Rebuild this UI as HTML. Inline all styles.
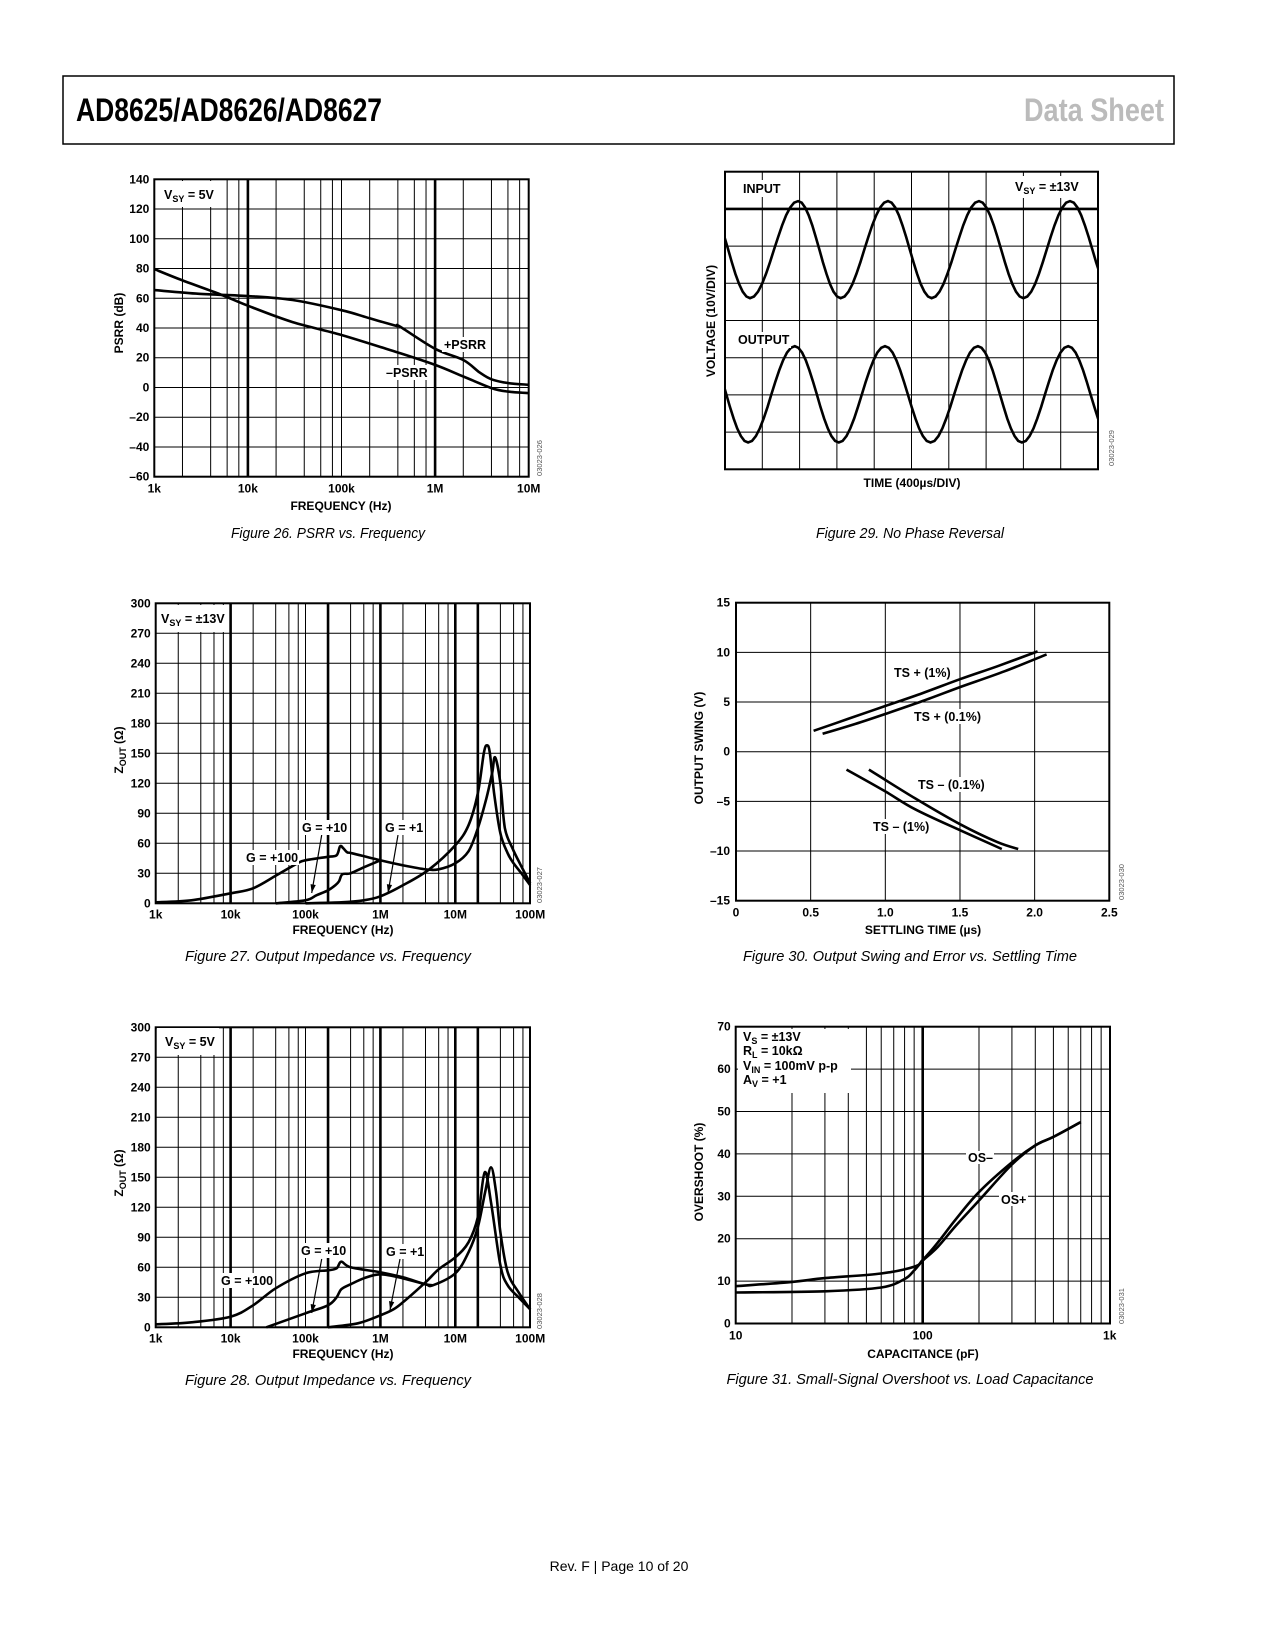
<!DOCTYPE html>
<html><head><meta charset="utf-8">
<style>
html,body{margin:0;padding:0;background:#fff;}
svg{display:block;}
text{font-family:"Liberation Sans",Arial,sans-serif;}
.b{font-weight:bold;font-size:12px;}
.lab{font-weight:bold;font-size:12.5px;}
.cap{font-style:italic;font-size:15px;}
.code{font-size:7.5px;fill:#555;}
</style></head>
<body>
<svg id="page" width="1275" height="1650" viewBox="0 0 1275 1650">
<rect x="0" y="0" width="1275" height="1650" fill="#fff"/>
<rect x="63" y="76" width="1111" height="68" fill="none" stroke="#000" stroke-width="1.5"/>
<text x="76" y="121" font-family="'Liberation Sans Narrow','Liberation Sans',sans-serif" font-weight="bold" font-size="32" textLength="306" lengthAdjust="spacingAndGlyphs">AD8625/AD8626/AD8627</text>
<text x="1164" y="121" text-anchor="end" font-family="'Liberation Sans Narrow','Liberation Sans',sans-serif" font-weight="bold" font-size="32" fill="#bbb" textLength="140" lengthAdjust="spacingAndGlyphs">Data Sheet</text>

<g id="g1"></g>
<g id="g2"></g>
<g id="g3"></g>
<g id="g4"></g>
<g id="g5"></g>
<g id="g6"></g>

<g id="ann">
<rect x="156" y="181" width="70" height="26" fill="#fff"/>
<text x="164" y="199" class="lab">V<tspan font-size="9" dy="3">SY</tspan><tspan dy="-3"> = 5V</tspan></text>
<rect x="442" y="337" width="48" height="15" fill="#fff"/>
<text x="444" y="349" class="lab">+PSRR</text>
<rect x="384" y="365" width="45" height="15" fill="#fff"/>
<text x="386" y="377" class="lab">–PSRR</text>

<rect x="157" y="605" width="71" height="27" fill="#fff"/>
<text x="161" y="623" class="lab">V<tspan font-size="9" dy="3">SY</tspan><tspan dy="-3"> = ±13V</tspan></text>
<rect x="300" y="820" width="49" height="15" fill="#fff"/>
<text x="302" y="832" class="lab">G = +10</text>
<rect x="383" y="820" width="40" height="15" fill="#fff"/>
<text x="385" y="832" class="lab">G = +1</text>
<rect x="244" y="850" width="55" height="15" fill="#fff"/>
<text x="246" y="862" class="lab">G = +100</text>

<rect x="157" y="1028" width="62" height="27" fill="#fff"/>
<text x="165" y="1046" class="lab">V<tspan font-size="9" dy="3">SY</tspan><tspan dy="-3"> = 5V</tspan></text>
<rect x="299" y="1243" width="49" height="15" fill="#fff"/>
<text x="301" y="1255" class="lab">G = +10</text>
<rect x="384" y="1244" width="40" height="15" fill="#fff"/>
<text x="386" y="1256" class="lab">G = +1</text>
<rect x="219" y="1273" width="55" height="15" fill="#fff"/>
<text x="221" y="1285" class="lab">G = +100</text>

<rect x="741" y="180" width="42" height="17" fill="#fff"/>
<text x="743" y="193" class="lab">INPUT</text>
<rect x="1011" y="176" width="78" height="22" fill="#fff"/>
<text x="1015" y="191" class="lab">V<tspan font-size="9" dy="3">SY</tspan><tspan dy="-3"> = ±13V</tspan></text>
<rect x="736" y="332" width="55" height="16" fill="#fff"/>
<text x="738" y="344" class="lab">OUTPUT</text>

<rect x="892" y="665" width="62" height="15" fill="#fff"/>
<text x="894" y="677" class="lab">TS + (1%)</text>
<rect x="912" y="709" width="72" height="15" fill="#fff"/>
<text x="914" y="721" class="lab">TS + (0.1%)</text>
<rect x="916" y="777" width="71" height="15" fill="#fff"/>
<text x="918" y="789" class="lab">TS – (0.1%)</text>
<rect x="871" y="819" width="60" height="15" fill="#fff"/>
<text x="873" y="831" class="lab">TS – (1%)</text>

<rect x="738" y="1029" width="113" height="64" fill="#fff"/>
<text x="743" y="1041" class="lab">V<tspan font-size="9" dy="3">S</tspan><tspan dy="-3"> = ±13V</tspan></text>
<text x="743" y="1055" class="lab">R<tspan font-size="9" dy="3">L</tspan><tspan dy="-3"> = 10kΩ</tspan></text>
<text x="743" y="1070" class="lab">V<tspan font-size="9" dy="3">IN</tspan><tspan dy="-3"> = 100mV p-p</tspan></text>
<text x="743" y="1084" class="lab">A<tspan font-size="9" dy="3">V</tspan><tspan dy="-3"> = +1</tspan></text>
<rect x="966" y="1151" width="28" height="13" fill="#fff"/>
<text x="968" y="1162" class="lab">OS–</text>
<rect x="999" y="1192" width="29" height="14" fill="#fff"/>
<text x="1001" y="1204" class="lab">OS+</text>

<text x="341" y="510" text-anchor="middle" class="b">FREQUENCY  (Hz)</text>
<text transform="translate(123,323) rotate(-90)" text-anchor="middle" class="b">PSRR (dB)</text>
<text x="343" y="934" text-anchor="middle" class="b">FREQUENCY  (Hz)</text>
<text transform="translate(123,750) rotate(-90)" text-anchor="middle" class="b">Z<tspan font-size="9" dy="3">OUT</tspan><tspan dy="-3"> (Ω)</tspan></text>
<text x="343" y="1358" text-anchor="middle" class="b">FREQUENCY  (Hz)</text>
<text transform="translate(123,1173) rotate(-90)" text-anchor="middle" class="b">Z<tspan font-size="9" dy="3">OUT</tspan><tspan dy="-3"> (Ω)</tspan></text>
<text x="912" y="487" text-anchor="middle" class="b">TIME  (400µs/DIV)</text>
<text transform="translate(715,321) rotate(-90)" text-anchor="middle" class="b">VOLTAGE (10V/DIV)</text>
<text x="923" y="934" text-anchor="middle" class="b">SETTLING  TIME  (µs)</text>
<text transform="translate(703,748) rotate(-90)" text-anchor="middle" class="b">OUTPUT SWING (V)</text>
<text x="923" y="1358" text-anchor="middle" class="b">CAPACITANCE  (pF)</text>
<text transform="translate(703,1172) rotate(-90)" text-anchor="middle" class="b">OVERSHOOT (%)</text>

<text x="328" y="538" text-anchor="middle" class="cap" textLength="194" lengthAdjust="spacingAndGlyphs">Figure 26. PSRR vs. Frequency</text>
<text x="910" y="538" text-anchor="middle" class="cap" textLength="188" lengthAdjust="spacingAndGlyphs">Figure 29. No Phase Reversal</text>
<text x="328" y="961" text-anchor="middle" class="cap" textLength="286" lengthAdjust="spacingAndGlyphs">Figure 27. Output Impedance vs. Frequency</text>
<text x="910" y="961" text-anchor="middle" class="cap" textLength="334" lengthAdjust="spacingAndGlyphs">Figure 30. Output Swing and Error vs. Settling Time</text>
<text x="328" y="1385" text-anchor="middle" class="cap" textLength="286" lengthAdjust="spacingAndGlyphs">Figure 28. Output Impedance vs. Frequency</text>
<text x="910" y="1384" text-anchor="middle" class="cap" textLength="367" lengthAdjust="spacingAndGlyphs">Figure 31. Small-Signal Overshoot vs. Load Capacitance</text>
<text x="619" y="1571" text-anchor="middle" font-size="14">Rev. F | Page 10 of 20</text>

<text transform="translate(542,458) rotate(-90)" text-anchor="middle" class="code">03023-026</text>
<text transform="translate(542,885) rotate(-90)" text-anchor="middle" class="code">03023-027</text>
<text transform="translate(542,1311) rotate(-90)" text-anchor="middle" class="code">03023-028</text>
<text transform="translate(1114,448) rotate(-90)" text-anchor="middle" class="code">03023-029</text>
<text transform="translate(1124,882) rotate(-90)" text-anchor="middle" class="code">03023-030</text>
<text transform="translate(1124,1306) rotate(-90)" text-anchor="middle" class="code">03023-031</text>
</g>
</svg>
<script>
// ===== Figure 26 data =====
const psrrPosFreq = [1e3,3e3,1e4,3e4,1e5,2e5,3.8e5,4.2e5,1e6,2e6,3e6,4e6,6e6,1e7];
const psrrPosDb   = [65.5,63,61.5,58.8,52,46.5,41.5,41,26,18.5,10,5.5,3,1.8];
const psrrNegFreq = [1e3,2e3,5e3,1e4,3e4,1e5,4e5,1e6,2e6,4e6,6e6,1e7];
const psrrNegDb   = [79.6,72,62.8,55,44,35.3,23.5,15.2,7.4,-0.4,-2.8,-3.8];
const psrrYTicks  = [140,120,100,80,60,40,20,0,-20,-40,-60];
const psrrXTickF  = [1e3,1e4,1e5,1e6,1e7];
const psrrXTickL  = ['1k','10k','100k','1M','10M'];
// ===== Figure 27 data =====
const z13G100F = [1e3,3e3,1e4,2e4,4.1e4,7.8e4,1e5,2e5,2.6e5,2.9e5,3.2e5,3.6e5,4.2e5,1e6,2e6,4e6,6e6,1e7,1.5e7,2e7,2.6e7,3.1e7,3.4e7,4e7,4.6e7,5.8e7,7.5e7,1e8];
const z13G100V = [1,3,10,15,28,40,43,46.5,48,57,55,51,50,43,38,34,34,40,52,75,105,130,146,120,75,55,38,20];
const z13G10F  = [4e4,1e5,1.4e5,2e5,2.5e5,2.8e5,3.1e5,4e5,6e5,1e6];
const z13G10V  = [0,3,8,13,18,22,29,30,36,43];
const z13G1F   = [1e5,3e5,6e5,1e6,2e6,4.5e6,1e7,1.5e7,2e7,2.4e7,2.65e7,2.9e7,3.3e7,4e7,5e7,6e7,8e7,1e8];
const z13G1V   = [0,1,3,7,18,34,58,78,110,150,158,150,110,70,50,40,28,18];
// ===== Figure 28 data =====
const z5G100F = [1e3,3e3,1e4,2e4,4e4,1e5,2e5,2.6e5,3e5,4e5,1e6,2e6,4e6,5e6,1e7,1.5e7,2e7,2.5e7,3e7,3.5e7,4e7,5e7,7e7,1e8];
const z5G100V = [3,5,10.6,22,39,54,57,59,65.6,60,55,50,43,42,54,75,100,135,160,135,95,55,35,18];
const z5G10F  = [3e4,1e5,2e5,2.6e5,3e5,4e5,6e5,1e6,2e6,4e6,5e6];
const z5G10V  = [0,14,22,30,38,43,49,53,49,43,42];
const z5G1F   = [2e5,5e5,1e6,1.5e6,2e6,4e6,6e6,1e7,1.5e7,2e7,2.47e7,3e7,4e7,5e7,7e7,1e8];
const z5G1V   = [0,4,12,18,25,45,58,70,85,110,155,125,62,42,30,18];
const zYTicks = [300,270,240,210,180,150,120,90,60,30,0];
const zXTickF = [1e3,1e4,1e5,1e6,1e7,1e8];
const zXTickL = ['1k','10k','100k','1M','10M','100M'];
// ===== Figure 29 data (extrema: time in divisions, level in divisions) =====
const inExtT  = [-0.5,0.67,1.96,3.10,4.37,5.54,6.81,8.0,9.25,10.45];
const inExtV  = [7.21,4.6,7.21,4.6,7.21,4.6,7.21,4.6,7.21,4.6];
const outExtT = [-0.55,0.62,1.87,3.05,4.29,5.51,6.78,7.96,9.2,10.4];
const outExtV = [3.31,0.72,3.31,0.72,3.31,0.72,3.31,0.72,3.31,0.72];
// ===== Figure 30 data =====
const tsP1T  = [0.52,0.75,1.0,1.25,1.5,1.75,2.02];
const tsP1V  = [2.1,3.3,4.6,5.9,7.3,8.6,10.1];
const tsP01T = [0.58,0.8,1.0,1.25,1.5,1.8,2.08];
const tsP01V = [1.8,2.8,3.8,5.1,6.5,8.1,9.8];
const tsN1T  = [0.74,1.0,1.2,1.5,1.78];
const tsN1V  = [-1.8,-4.0,-5.8,-7.9,-9.8];
const tsN01T = [0.89,1.2,1.5,1.75,1.89];
const tsN01V = [-1.8,-4.7,-7.3,-9.1,-9.8];
const tsYTicks = [15,10,5,0,-5,-10,-15];
const tsXTicks = [0,0.5,1.0,1.5,2.0,2.5];
const tsXTickL = ['0','0.5','1.0','1.5','2.0','2.5'];
// ===== Figure 31 data =====
const osMinusC = [10,20,30,60,90,100,120,150,200,300,400,500,700];
const osMinusV = [8.8,9.8,10.7,11.8,13.4,15,19,24.5,31,38,42,44,47.5];
const osPlusC  = [10,30,60,80,90,100,120,150,200,300,400,500,700];
const osPlusV  = [7.3,7.6,8.5,10.5,12.5,14.8,18,23,29,37.5,42,44,47.5];
const osYTicks = [70,60,50,40,30,20,10,0];
const osXTickC = [10,100,1000];
const osXTickL = ['10','100','1k'];

const svg = document.getElementById('page');
const NS = svg.namespaceURI;
function mk(tag, parent, attrs){
  const e = document.createElementNS(NS, tag);
  for (const k in attrs) e.setAttribute(k, attrs[k]);
  parent.appendChild(e);
  return e;
}
function ln(parent, x1,y1,x2,y2,w){
  return mk('line', parent, {x1:x1,y1:y1,x2:x2,y2:y2,stroke:'#000','stroke-width':w});
}
function smooth(pts){
  let d = 'M'+pts[0][0].toFixed(1)+','+pts[0][1].toFixed(1);
  for (let i=0;i<pts.length-1;i++){
    const p0=pts[i-1]||pts[i], p1=pts[i], p2=pts[i+1], p3=pts[i+2]||pts[i+1];
    const c1x=p1[0]+(p2[0]-p0[0])/6, c1y=p1[1]+(p2[1]-p0[1])/6;
    const c2x=p2[0]-(p3[0]-p1[0])/6, c2y=p2[1]-(p3[1]-p1[1])/6;
    d+=' C'+c1x.toFixed(1)+','+c1y.toFixed(1)+' '+c2x.toFixed(1)+','+c2y.toFixed(1)+' '+p2[0].toFixed(1)+','+p2[1].toFixed(1);
  }
  return d;
}
function curve(parent, xs, ys, X, Y, name){
  const pts = xs.map((v,i)=>[X(v), Y(ys[i])]);
  const p = mk('path', parent, {d:smooth(pts), fill:'none', stroke:'#000','stroke-width':2.6,'stroke-linejoin':'round'});
  
  
  return p;
}
function tick(parent, x, y, s, anchor, name){
  const t = mk('text', parent, {x:x, y:y, 'text-anchor':anchor, class:'b'});
  t.textContent = s;
  
  
  return t;
}
function logGrid(g, X, top, bot, f0, f1, thickSet){
  for (let d=f0; d<f1; d*=10){
    [1,2,4,6,8].forEach(m=>{
      const f = d*m;
      if (f<=f0) return;
      const thick = thickSet.some(t=>Math.abs(t/f-1)<1e-6);
      const l = ln(g, X(f), top, X(f), bot, thick?2.6:1);
      
      
    });
  }
}
function hGrid(g, ticks, Y, left, right){
  ticks.forEach(v=>{
    const l = ln(g, left, Y(v), right, Y(v), 1);
    
    
  });
}
function frame(g, l, t, r, b){
  const f = mk('rect', g, {x:l, y:t, width:r-l, height:b-t, fill:'none', stroke:'#000','stroke-width':2});
  
  
}

(function(){
  const g = document.getElementById('g1');
  const L=154.3, R=528.7, T=179.3, B=476.7;
  const X = f => L + 93.6*Math.log10(f/1e3);
  const Y = v => B - (v+60)*(B-T)/200;
  hGrid(g, psrrYTicks, Y, L, R);
  logGrid(g, X, T, B, 1e3, 1e7, [1e4,1e6]);
  frame(g, L, T, R, B);
  psrrYTicks.forEach(v=>tick(g, L-5, Y(v)+4, v<0?'–'+(-v):String(v), 'end', 'y-tick-label'));
  psrrXTickF.forEach((f,i)=>tick(g, X(f), B+16, psrrXTickL[i], 'middle', 'x-tick-label'));
  curve(g, psrrPosFreq, psrrPosDb, X, Y, 'pos-psrr-line');
  curve(g, psrrNegFreq, psrrNegDb, X, Y, 'neg-psrr-line');
})();

function zoutChart(id, B, g100F, g100V, g10F, g10V, g1F, g1V, arrows){
  const g = document.getElementById(id);
  const L=155.7, R=530, T=B-300;
  const X = f => L + 74.9*Math.log10(f/1e3);
  const Y = v => B - v;
  hGrid(g, zYTicks, Y, L, R);
  logGrid(g, X, T, B, 1e3, 1e8, [1e4,2e5,1e6,1e7,2e7]);
  frame(g, L, T, R, B);
  zYTicks.forEach(v=>tick(g, L-5, Y(v)+4, String(v), 'end', 'y-tick-label'));
  zXTickF.forEach((f,i)=>tick(g, X(f), B+15, zXTickL[i], 'middle', 'x-tick-label'));
  curve(g, g100F, g100V, X, Y, 'g100-line');
  curve(g, g10F, g10V, X, Y, 'g10-line');
  curve(g, g1F, g1V, X, Y, 'g1-line');
  arrows.forEach(a=>{
    const l = ln(g, a[0], a[1], a[2], a[3], 1.2);
    
    
    const ang = Math.atan2(a[3]-a[1], a[2]-a[0]);
    const s=9, w=0.3;
    const p1=[a[2]-s*Math.cos(ang-w), a[3]-s*Math.sin(ang-w)];
    const p2=[a[2]-s*Math.cos(ang+w), a[3]-s*Math.sin(ang+w)];
    const h = mk('polygon', g, {points:a[2]+','+a[3]+' '+p1.join(',')+' '+p2.join(','), fill:'#000'});
    
    
  });
}
zoutChart('g2', 903.3, z13G100F, z13G100V, z13G10F, z13G10V, z13G1F, z13G1V,
  [[321.7,835,311.7,893],[398,835,388,893]]);
zoutChart('g3', 1327.3, z5G100F, z5G100V, z5G10F, z5G10V, z5G1F, z5G1V,
  [[321.7,1259,311.7,1313],[400,1259,390,1310]]);

(function(){
  const g = document.getElementById('g4');
  const L=725, T=171.7, cw=37.3, ch=37.2, R=L+10*cw, B=T+8*ch;
  const X = t => L + cw*t;
  const Y = d => B - ch*d;
  for (let i=1;i<10;i++){
    const l = ln(g, X(i), T, X(i), B, 1);
    
    
  }
  for (let j=1;j<8;j++){
    const l = ln(g, L, Y(j), R, Y(j), j===7?2.6:1);
    
    
  }
  frame(g, L, T, R, B);
  const clip = mk('clipPath', g, {id:'c4'});
  mk('rect', clip, {x:L, y:T, width:R-L, height:B-T});
  function wave(ts, vs, name){
    const pts=[];
    for (let i=0;i<ts.length-1;i++){
      for (let k=0;k<12;k++){
        const u=k/12, t=ts[i]+(ts[i+1]-ts[i])*u;
        const v=vs[i]+(vs[i+1]-vs[i])*(1-Math.cos(Math.PI*u))/2;
        pts.push([X(t),Y(v)]);
      }
    }
    pts.push([X(ts[ts.length-1]),Y(vs[vs.length-1])]);
    const p = mk('path', g, {d:'M'+pts.map(p=>p[0].toFixed(1)+','+p[1].toFixed(1)).join(' L'), fill:'none', stroke:'#000','stroke-width':2.6,'clip-path':'url(#c4)'});
    
    
  }
  wave(inExtT, inExtV, 'input-waveform');
  wave(outExtT, outExtV, 'output-waveform');
})();

(function(){
  const g = document.getElementById('g5');
  const L=736, R=1109.3, T=602.7, B=900.7;
  const X = t => L + t*(R-L)/2.5;
  const Y = v => (T+B)/2 - v*(B-T)/30;
  hGrid(g, tsYTicks, Y, L, R);
  tsXTicks.forEach(t=>{
    const l = ln(g, X(t), T, X(t), B, 1);
    
    
  });
  frame(g, L, T, R, B);
  tsYTicks.forEach(v=>tick(g, L-6, Y(v)+4, v<0?'–'+(-v):String(v), 'end', 'y-tick-label'));
  tsXTicks.forEach((t,i)=>tick(g, X(t), B+16, tsXTickL[i], 'middle', 'x-tick-label'));
  curve(g, tsP1T, tsP1V, X, Y, 'ts-plus-1-line');
  curve(g, tsP01T, tsP01V, X, Y, 'ts-plus-01-line');
  curve(g, tsN1T, tsN1V, X, Y, 'ts-minus-1-line');
  curve(g, tsN01T, tsN01V, X, Y, 'ts-minus-01-line');
})();

(function(){
  const g = document.getElementById('g6');
  const L=735.7, R=1110, T=1026.7, B=1323.5;
  const X = c => L + 187*Math.log10(c/10);
  const Y = v => B - v*(B-T)/70;
  hGrid(g, osYTicks, Y, L, R);
  [10,100].forEach(d=>{
    [2,3,4,5,6,7,8,9,10].forEach(m=>{
      const c=d*m;
      if (c>=1000) return;
      const l = ln(g, X(c), T, X(c), B, c===100?2.6:1);
      
      
    });
  });
  frame(g, L, T, R, B);
  osYTicks.forEach(v=>tick(g, L-5, Y(v)+4, String(v), 'end', 'y-tick-label'));
  osXTickC.forEach((c,i)=>tick(g, X(c), B+16, osXTickL[i], 'middle', 'x-tick-label'));
  curve(g, osMinusC, osMinusV, X, Y, 'os-minus-line');
  curve(g, osPlusC, osPlusV, X, Y, 'os-plus-line');
})();

svg.appendChild(document.getElementById('ann'));
</script>
</body></html>
